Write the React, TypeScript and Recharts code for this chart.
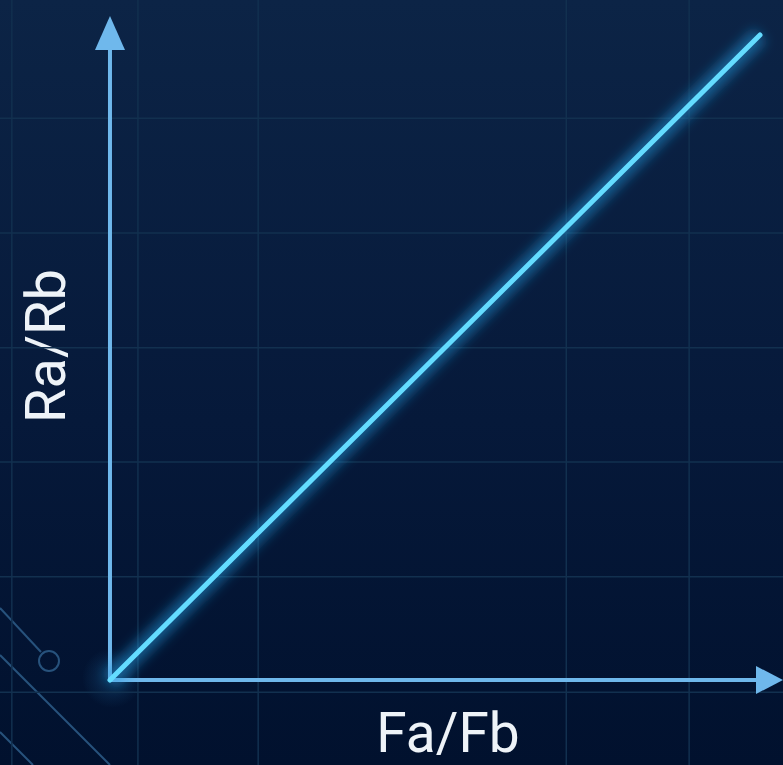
import { LineChart, Line, XAxis, YAxis, ReferenceLine } from "recharts";

// ratio plot: Ra/Rb grows in proportion to Fa/Fb
const FA_FB = [0, 1];
const RA_RB = [0, 1];

// faint background grid, in data units
const GRID_X = [-0.151, 0.043, 0.228, 0.702, 0.891];
const GRID_Y = [0.871, 0.693, 0.515, 0.338, 0.16, -0.019];

const X_DOMAIN: [number, number] = [-0.1692, 1.0354];
const Y_DOMAIN: [number, number] = [-0.1318, 1.0543];
const Y_AXIS_END = 1.0295;

const W = 783;
const H = 765;

const data = FA_FB.map((x, i) => ({ x, y: RA_RB[i] }));

const AXIS = "#6fb8ec";

const ArrowRight = (p: any) => (
  <g>
    <line x1={p.x1} y1={p.y1} x2={p.x2 - 22} y2={p.y2} stroke={AXIS} strokeWidth={4} />
    <polygon points={`${p.x2},${p.y2} ${p.x2 - 27},${p.y2 - 14} ${p.x2 - 27},${p.y2 + 14}`} fill={AXIS} />
  </g>
);

const ArrowUp = (p: any) => (
  <g>
    <line x1={p.x1} y1={p.y1} x2={p.x2} y2={p.y2 + 28} stroke={AXIS} strokeWidth={4} />
    <polygon points={`${p.x2},${p.y2} ${p.x2 - 15},${p.y2 + 34} ${p.x2 + 15},${p.y2 + 34}`} fill={AXIS} />
  </g>
);

export default function App() {
  return (
    <div style={{ position: "absolute", left: 0, top: 0, width: W, height: H, overflow: "hidden" }}>
      <svg width={W} height={H} style={{ position: "absolute", left: 0, top: 0 }}>
        <defs>
          <linearGradient id="bg" x1="0" y1="0" x2="0" y2="1">
            <stop offset="0%" stopColor="#0c2446" />
            <stop offset="55%" stopColor="#06193a" />
            <stop offset="100%" stopColor="#01112e" />
          </linearGradient>
          <radialGradient id="spot" cx="0.5" cy="0.5" r="0.5">
            <stop offset="0%" stopColor="#2a8fd0" stopOpacity={0.25} />
            <stop offset="100%" stopColor="#2a8fd0" stopOpacity={0} />
          </radialGradient>
        </defs>
        <rect width={W} height={H} fill="url(#bg)" />
        <circle cx={112} cy={678} r={30} fill="url(#spot)" />
        <g stroke="#27527c" strokeWidth={2} fill="none">
          <line x1={0} y1={608} x2={41} y2={652} />
          <circle cx={49} cy={661} r={10} />
          <line x1={0} y1={655} x2={110} y2={765} />
          <line x1={0} y1={732} x2={33} y2={765} />
        </g>
      </svg>
      <div style={{ position: "absolute", left: 0, top: 0 }}>
        <LineChart width={W} height={H} data={data} margin={{ top: 0, right: 0, bottom: 0, left: 0 }}>
          <defs>
            <filter id="glow" x="-20%" y="-20%" width="140%" height="140%">
              <feGaussianBlur stdDeviation="6" />
            </filter>
          </defs>
          <XAxis dataKey="x" type="number" domain={X_DOMAIN} allowDataOverflow hide />
          <YAxis type="number" domain={Y_DOMAIN} allowDataOverflow hide />
          {GRID_X.map((v) => (
            <ReferenceLine key={`gx${v}`} x={v} stroke="#12304f" strokeWidth={1.5} ifOverflow="visible" />
          ))}
          {GRID_Y.map((v) => (
            <ReferenceLine key={`gy${v}`} y={v} stroke="#12304f" strokeWidth={1.5} ifOverflow="visible" />
          ))}
          <ReferenceLine
            segment={[{ x: 0, y: 0 }, { x: X_DOMAIN[1], y: 0 }]}
            ifOverflow="visible"
            shape={ArrowRight}
          />
          <ReferenceLine
            segment={[{ x: 0, y: 0 }, { x: 0, y: Y_AXIS_END }]}
            ifOverflow="visible"
            shape={ArrowUp}
          />
          <Line
            dataKey="y"
            stroke="#1f9be0"
            strokeWidth={18}
            strokeOpacity={0.5}
            dot={false}
            activeDot={false}
            style={{ filter: "url(#glow)" }}
            isAnimationActive={false}
          />
          <Line
            dataKey="y"
            stroke="#64dcff"
            strokeWidth={5}
            strokeLinecap="round"
            dot={false}
            activeDot={false}
            isAnimationActive={false}
          />
          <text x={448} y={752} textAnchor="middle" fill="#eef3f8" fontFamily="Roboto, sans-serif" fontSize={55}>
            Fa/Fb
          </text>
          <text
            x={65}
            y={346}
            textAnchor="middle"
            fill="#eef3f8"
            fontFamily="Roboto, sans-serif"
            fontSize={56}
            transform="rotate(-90, 65, 346)"
          >
            Ra/Rb
          </text>
        </LineChart>
      </div>
    </div>
  );
}
